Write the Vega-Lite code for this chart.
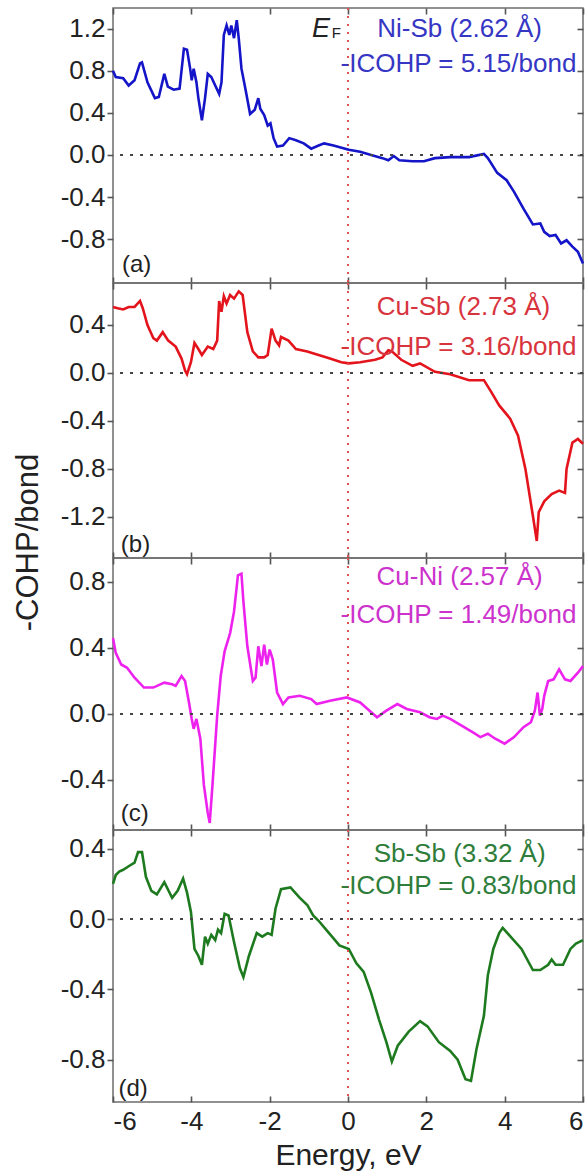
{
  "$schema": "https://vega.github.io/schema/vega-lite/v6.json",
  "padding": {"left": 11, "top": 6, "right": 4, "bottom": 0},
  "spacing": 0,
  "bounds": "flush",
  "config": {
    "view": {"stroke": "#6e6e6e", "strokeWidth": 1.5},
    "axis": {"labelFont": "Liberation Sans", "titleFont": "Liberation Sans", "labelFontSize": 26, "titleFontSize": 30, "labelColor": "#222222", "titleColor": "#222222", "titleFontWeight": "normal", "grid": false, "domain": false, "ticks": true, "tickColor": "#555555", "tickWidth": 1.6, "labelExpr": "replace(datum.label, '\u2212', '-')"},
    "text": {"font": "Liberation Sans", "fontSize": 26, "baseline": "middle", "align": "center"}
  },
  "datasets": {
    "one": [{}],
    "a": [
      {"energy": -6.0, "cohp": 0.80}, {"energy": -5.93, "cohp": 0.74}, {"energy": -5.74, "cohp": 0.73}, {"energy": -5.6, "cohp": 0.66}, {"energy": -5.45, "cohp": 0.71}, {"energy": -5.31, "cohp": 0.87}, {"energy": -5.26, "cohp": 0.88}, {"energy": -5.12, "cohp": 0.69}, {"energy": -4.93, "cohp": 0.54}, {"energy": -4.83, "cohp": 0.55}, {"energy": -4.69, "cohp": 0.77}, {"energy": -4.6, "cohp": 0.65}, {"energy": -4.45, "cohp": 0.62}, {"energy": -4.3, "cohp": 0.63}, {"energy": -4.19, "cohp": 1.01}, {"energy": -4.11, "cohp": 1.0}, {"energy": -4.03, "cohp": 0.82}, {"energy": -3.99, "cohp": 0.71}, {"energy": -3.94, "cohp": 0.82}, {"energy": -3.87, "cohp": 0.69}, {"energy": -3.82, "cohp": 0.54}, {"energy": -3.73, "cohp": 0.33}, {"energy": -3.65, "cohp": 0.54}, {"energy": -3.58, "cohp": 0.77}, {"energy": -3.49, "cohp": 0.74}, {"energy": -3.39, "cohp": 0.66}, {"energy": -3.29, "cohp": 0.58}, {"energy": -3.23, "cohp": 0.69}, {"energy": -3.17, "cohp": 1.14}, {"energy": -3.1, "cohp": 1.23}, {"energy": -3.03, "cohp": 1.14}, {"energy": -2.98, "cohp": 1.23}, {"energy": -2.91, "cohp": 1.11}, {"energy": -2.84, "cohp": 1.28}, {"energy": -2.79, "cohp": 1.11}, {"energy": -2.72, "cohp": 0.82}, {"energy": -2.62, "cohp": 0.63}, {"energy": -2.5, "cohp": 0.39}, {"energy": -2.38, "cohp": 0.43}, {"energy": -2.29, "cohp": 0.54}, {"energy": -2.24, "cohp": 0.44}, {"energy": -2.14, "cohp": 0.38}, {"energy": -2.05, "cohp": 0.28}, {"energy": -1.98, "cohp": 0.30}, {"energy": -1.9, "cohp": 0.16}, {"energy": -1.81, "cohp": 0.08}, {"energy": -1.66, "cohp": 0.09}, {"energy": -1.5, "cohp": 0.16}, {"energy": -1.33, "cohp": 0.14}, {"energy": -1.13, "cohp": 0.11}, {"energy": -0.94, "cohp": 0.06}, {"energy": -0.75, "cohp": 0.09}, {"energy": -0.61, "cohp": 0.11}, {"energy": -0.37, "cohp": 0.09}, {"energy": 0.02, "cohp": 0.05}, {"energy": 0.31, "cohp": 0.03}, {"energy": 0.59, "cohp": 0.0}, {"energy": 0.88, "cohp": -0.03}, {"energy": 1.03, "cohp": -0.05}, {"energy": 1.17, "cohp": -0.01}, {"energy": 1.31, "cohp": -0.05}, {"energy": 1.65, "cohp": -0.06}, {"energy": 1.94, "cohp": -0.06}, {"energy": 2.22, "cohp": -0.03}, {"energy": 2.61, "cohp": -0.02}, {"energy": 3.09, "cohp": -0.02}, {"energy": 3.47, "cohp": 0.01}, {"energy": 3.57, "cohp": -0.03}, {"energy": 3.81, "cohp": -0.17}, {"energy": 4.05, "cohp": -0.24}, {"energy": 4.24, "cohp": -0.35}, {"energy": 4.48, "cohp": -0.51}, {"energy": 4.72, "cohp": -0.66}, {"energy": 4.91, "cohp": -0.65}, {"energy": 5.01, "cohp": -0.73}, {"energy": 5.15, "cohp": -0.77}, {"energy": 5.3, "cohp": -0.76}, {"energy": 5.44, "cohp": -0.84}, {"energy": 5.58, "cohp": -0.81}, {"energy": 5.73, "cohp": -0.87}, {"energy": 5.87, "cohp": -0.92}, {"energy": 6.0, "cohp": -1.03}
    ],
    "b": [
      {"energy": -6.0, "cohp": 0.55}, {"energy": -5.88, "cohp": 0.54}, {"energy": -5.74, "cohp": 0.53}, {"energy": -5.6, "cohp": 0.55}, {"energy": -5.45, "cohp": 0.55}, {"energy": -5.31, "cohp": 0.60}, {"energy": -5.24, "cohp": 0.54}, {"energy": -5.12, "cohp": 0.40}, {"energy": -4.97, "cohp": 0.29}, {"energy": -4.88, "cohp": 0.27}, {"energy": -4.73, "cohp": 0.34}, {"energy": -4.59, "cohp": 0.27}, {"energy": -4.4, "cohp": 0.22}, {"energy": -4.25, "cohp": 0.12}, {"energy": -4.16, "cohp": 0.02}, {"energy": -4.11, "cohp": -0.01}, {"energy": -4.01, "cohp": 0.09}, {"energy": -3.92, "cohp": 0.25}, {"energy": -3.82, "cohp": 0.20}, {"energy": -3.73, "cohp": 0.15}, {"energy": -3.58, "cohp": 0.22}, {"energy": -3.44, "cohp": 0.20}, {"energy": -3.34, "cohp": 0.27}, {"energy": -3.29, "cohp": 0.60}, {"energy": -3.23, "cohp": 0.51}, {"energy": -3.17, "cohp": 0.64}, {"energy": -3.1, "cohp": 0.58}, {"energy": -3.01, "cohp": 0.65}, {"energy": -2.91, "cohp": 0.62}, {"energy": -2.79, "cohp": 0.68}, {"energy": -2.69, "cohp": 0.65}, {"energy": -2.57, "cohp": 0.34}, {"energy": -2.43, "cohp": 0.18}, {"energy": -2.29, "cohp": 0.13}, {"energy": -2.14, "cohp": 0.13}, {"energy": -2.05, "cohp": 0.15}, {"energy": -1.95, "cohp": 0.37}, {"energy": -1.85, "cohp": 0.27}, {"energy": -1.76, "cohp": 0.23}, {"energy": -1.71, "cohp": 0.30}, {"energy": -1.52, "cohp": 0.27}, {"energy": -1.33, "cohp": 0.20}, {"energy": -1.04, "cohp": 0.18}, {"energy": -0.75, "cohp": 0.15}, {"energy": -0.46, "cohp": 0.12}, {"energy": -0.17, "cohp": 0.09}, {"energy": 0.02, "cohp": 0.08}, {"energy": 0.31, "cohp": 0.09}, {"energy": 0.69, "cohp": 0.11}, {"energy": 0.88, "cohp": 0.13}, {"energy": 1.03, "cohp": 0.19}, {"energy": 1.12, "cohp": 0.18}, {"energy": 1.36, "cohp": 0.11}, {"energy": 1.65, "cohp": 0.06}, {"energy": 1.84, "cohp": 0.08}, {"energy": 2.22, "cohp": 0.01}, {"energy": 2.61, "cohp": -0.01}, {"energy": 3.09, "cohp": -0.06}, {"energy": 3.47, "cohp": -0.06}, {"energy": 3.66, "cohp": -0.16}, {"energy": 3.86, "cohp": -0.27}, {"energy": 4.14, "cohp": -0.38}, {"energy": 4.34, "cohp": -0.52}, {"energy": 4.53, "cohp": -0.80}, {"energy": 4.72, "cohp": -1.19}, {"energy": 4.82, "cohp": -1.40}, {"energy": 4.87, "cohp": -1.16}, {"energy": 5.01, "cohp": -1.07}, {"energy": 5.2, "cohp": -1.01}, {"energy": 5.39, "cohp": -0.98}, {"energy": 5.54, "cohp": -1.0}, {"energy": 5.58, "cohp": -0.80}, {"energy": 5.73, "cohp": -0.58}, {"energy": 5.87, "cohp": -0.55}, {"energy": 6.0, "cohp": -0.59}
    ],
    "c": [
      {"energy": -6.0, "cohp": 0.46}, {"energy": -5.93, "cohp": 0.37}, {"energy": -5.79, "cohp": 0.30}, {"energy": -5.64, "cohp": 0.28}, {"energy": -5.45, "cohp": 0.22}, {"energy": -5.21, "cohp": 0.16}, {"energy": -4.97, "cohp": 0.16}, {"energy": -4.69, "cohp": 0.19}, {"energy": -4.49, "cohp": 0.18}, {"energy": -4.4, "cohp": 0.17}, {"energy": -4.25, "cohp": 0.23}, {"energy": -4.16, "cohp": 0.20}, {"energy": -4.06, "cohp": 0.07}, {"energy": -3.99, "cohp": -0.03}, {"energy": -3.94, "cohp": -0.09}, {"energy": -3.87, "cohp": -0.03}, {"energy": -3.77, "cohp": -0.15}, {"energy": -3.68, "cohp": -0.43}, {"energy": -3.58, "cohp": -0.60}, {"energy": -3.53, "cohp": -0.66}, {"energy": -3.46, "cohp": -0.43}, {"energy": -3.34, "cohp": -0.01}, {"energy": -3.25, "cohp": 0.23}, {"energy": -3.15, "cohp": 0.38}, {"energy": -3.01, "cohp": 0.49}, {"energy": -2.91, "cohp": 0.62}, {"energy": -2.81, "cohp": 0.84}, {"energy": -2.72, "cohp": 0.85}, {"energy": -2.67, "cohp": 0.68}, {"energy": -2.57, "cohp": 0.41}, {"energy": -2.43, "cohp": 0.20}, {"energy": -2.36, "cohp": 0.22}, {"energy": -2.29, "cohp": 0.41}, {"energy": -2.21, "cohp": 0.29}, {"energy": -2.14, "cohp": 0.42}, {"energy": -2.07, "cohp": 0.30}, {"energy": -2.0, "cohp": 0.39}, {"energy": -1.92, "cohp": 0.33}, {"energy": -1.81, "cohp": 0.13}, {"energy": -1.66, "cohp": 0.06}, {"energy": -1.52, "cohp": 0.10}, {"energy": -1.23, "cohp": 0.11}, {"energy": -0.94, "cohp": 0.09}, {"energy": -0.8, "cohp": 0.06}, {"energy": -0.46, "cohp": 0.08}, {"energy": -0.03, "cohp": 0.10}, {"energy": 0.31, "cohp": 0.07}, {"energy": 0.55, "cohp": 0.02}, {"energy": 0.74, "cohp": -0.02}, {"energy": 0.98, "cohp": 0.02}, {"energy": 1.26, "cohp": 0.06}, {"energy": 1.5, "cohp": 0.03}, {"energy": 1.84, "cohp": 0.01}, {"energy": 2.08, "cohp": -0.02}, {"energy": 2.27, "cohp": -0.03}, {"energy": 2.42, "cohp": -0.01}, {"energy": 2.61, "cohp": -0.03}, {"energy": 2.9, "cohp": -0.07}, {"energy": 3.18, "cohp": -0.11}, {"energy": 3.38, "cohp": -0.14}, {"energy": 3.57, "cohp": -0.12}, {"energy": 3.76, "cohp": -0.15}, {"energy": 4.0, "cohp": -0.18}, {"energy": 4.24, "cohp": -0.14}, {"energy": 4.48, "cohp": -0.08}, {"energy": 4.67, "cohp": -0.05}, {"energy": 4.77, "cohp": 0.02}, {"energy": 4.84, "cohp": 0.13}, {"energy": 4.9, "cohp": -0.01}, {"energy": 4.96, "cohp": 0.03}, {"energy": 5.01, "cohp": 0.11}, {"energy": 5.11, "cohp": 0.20}, {"energy": 5.25, "cohp": 0.21}, {"energy": 5.39, "cohp": 0.27}, {"energy": 5.54, "cohp": 0.21}, {"energy": 5.68, "cohp": 0.20}, {"energy": 5.87, "cohp": 0.25}, {"energy": 6.0, "cohp": 0.29}
    ],
    "d": [
      {"energy": -6.0, "cohp": 0.20}, {"energy": -5.93, "cohp": 0.25}, {"energy": -5.84, "cohp": 0.27}, {"energy": -5.74, "cohp": 0.28}, {"energy": -5.6, "cohp": 0.30}, {"energy": -5.45, "cohp": 0.32}, {"energy": -5.36, "cohp": 0.38}, {"energy": -5.26, "cohp": 0.38}, {"energy": -5.16, "cohp": 0.24}, {"energy": -5.02, "cohp": 0.16}, {"energy": -4.88, "cohp": 0.14}, {"energy": -4.69, "cohp": 0.21}, {"energy": -4.49, "cohp": 0.12}, {"energy": -4.35, "cohp": 0.16}, {"energy": -4.21, "cohp": 0.23}, {"energy": -4.11, "cohp": 0.15}, {"energy": -4.01, "cohp": 0.04}, {"energy": -3.92, "cohp": -0.17}, {"energy": -3.82, "cohp": -0.21}, {"energy": -3.73, "cohp": -0.26}, {"energy": -3.65, "cohp": -0.10}, {"energy": -3.58, "cohp": -0.14}, {"energy": -3.49, "cohp": -0.09}, {"energy": -3.39, "cohp": -0.12}, {"energy": -3.32, "cohp": -0.06}, {"energy": -3.24, "cohp": -0.08}, {"energy": -3.15, "cohp": 0.03}, {"energy": -3.05, "cohp": 0.02}, {"energy": -2.91, "cohp": -0.13}, {"energy": -2.76, "cohp": -0.28}, {"energy": -2.67, "cohp": -0.33}, {"energy": -2.53, "cohp": -0.21}, {"energy": -2.33, "cohp": -0.08}, {"energy": -2.19, "cohp": -0.10}, {"energy": -2.05, "cohp": -0.08}, {"energy": -1.95, "cohp": -0.09}, {"energy": -1.85, "cohp": 0.06}, {"energy": -1.71, "cohp": 0.17}, {"energy": -1.47, "cohp": 0.18}, {"energy": -1.23, "cohp": 0.12}, {"energy": -1.04, "cohp": 0.08}, {"energy": -0.89, "cohp": 0.02}, {"energy": -0.75, "cohp": -0.01}, {"energy": -0.56, "cohp": -0.06}, {"energy": -0.37, "cohp": -0.11}, {"energy": -0.22, "cohp": -0.15}, {"energy": 0.02, "cohp": -0.17}, {"energy": 0.21, "cohp": -0.25}, {"energy": 0.4, "cohp": -0.30}, {"energy": 0.59, "cohp": -0.42}, {"energy": 0.79, "cohp": -0.57}, {"energy": 0.98, "cohp": -0.70}, {"energy": 1.12, "cohp": -0.81}, {"energy": 1.27, "cohp": -0.72}, {"energy": 1.55, "cohp": -0.64}, {"energy": 1.84, "cohp": -0.58}, {"energy": 2.03, "cohp": -0.61}, {"energy": 2.32, "cohp": -0.70}, {"energy": 2.61, "cohp": -0.75}, {"energy": 2.8, "cohp": -0.80}, {"energy": 3.0, "cohp": -0.91}, {"energy": 3.14, "cohp": -0.92}, {"energy": 3.28, "cohp": -0.74}, {"energy": 3.47, "cohp": -0.55}, {"energy": 3.57, "cohp": -0.32}, {"energy": 3.71, "cohp": -0.17}, {"energy": 3.86, "cohp": -0.08}, {"energy": 3.95, "cohp": -0.05}, {"energy": 4.15, "cohp": -0.10}, {"energy": 4.43, "cohp": -0.17}, {"energy": 4.72, "cohp": -0.29}, {"energy": 4.91, "cohp": -0.29}, {"energy": 5.11, "cohp": -0.26}, {"energy": 5.2, "cohp": -0.23}, {"energy": 5.3, "cohp": -0.26}, {"energy": 5.49, "cohp": -0.26}, {"energy": 5.68, "cohp": -0.17}, {"energy": 5.82, "cohp": -0.14}, {"energy": 6.0, "cohp": -0.12}
    ]
  },
  "vconcat": [
    {
      "width": 470, "height": 275,
      "resolve": {"axis": {"x": "independent", "y": "independent"}},
      "layer": [
        {"data": {"name": "a"}, "mark": {"type": "line", "color": "#1414c8", "strokeWidth": 2.6},
         "encoding": {
           "x": {"field": "energy", "type": "quantitative", "scale": {"domain": [-6, 6], "nice": false}, "axis": {"orient": "bottom", "values": [-6, -4, -2, 0, 2, 4, 6], "labels": false, "tickSize": 6, "offset": -6, "title": null}},
           "y": {"field": "cohp", "type": "quantitative", "scale": {"domain": [-1.216, 1.396], "nice": false, "zero": false}, "axis": {"orient": "left", "values": [-0.8, -0.4, 0, 0.4, 0.8, 1.2], "format": ".1f", "tickSize": 6, "labelPadding": 2, "title": null}}}},
        {"data": {"name": "one"}, "mark": {"type": "rule", "color": "#444444", "strokeWidth": 2, "strokeDash": [3, 7]},
         "encoding": {"y": {"datum": 0, "type": "quantitative", "scale": {"domain": [-1.216, 1.396], "nice": false, "zero": false}, "axis": {"orient": "right", "values": [-0.8, -0.4, 0, 0.4, 0.8, 1.2], "labels": false, "tickSize": 6, "offset": -6, "title": null}}}},
        {"data": {"name": "one"}, "mark": {"type": "rule", "color": "#e05050", "strokeWidth": 2, "strokeDash": [2, 6]},
         "encoding": {"x": {"datum": 0, "type": "quantitative", "scale": {"domain": [-6, 6], "nice": false}, "axis": {"orient": "top", "values": [-6, -4, -2, 0, 2, 4, 6], "labels": false, "tickSize": 6, "offset": -6, "title": null}}}},
        {"data": {"name": "one"}, "mark": {"type": "text", "text": "Ni-Sb (2.62 Å)", "color": "#3636c4"},
         "encoding": {"x": {"datum": 2.85, "type": "quantitative", "axis": null}, "y": {"datum": 1.2, "type": "quantitative", "axis": null}}},
        {"data": {"name": "one"}, "mark": {"type": "text", "text": "-ICOHP = 5.15/bond", "color": "#3636c4"},
         "encoding": {"x": {"datum": 2.82, "type": "quantitative", "axis": null}, "y": {"datum": 0.867, "type": "quantitative", "axis": null}}},
        {"data": {"name": "one"}, "mark": {"type": "text", "text": "E", "color": "#222222", "fontSize": 27, "fontStyle": "italic"},
         "encoding": {"x": {"datum": -0.69, "type": "quantitative", "axis": null}, "y": {"datum": 1.2, "type": "quantitative", "axis": null}}},
        {"data": {"name": "one"}, "mark": {"type": "text", "text": "F", "color": "#222222", "fontSize": 15},
         "encoding": {"x": {"datum": -0.3, "type": "quantitative", "axis": null}, "y": {"datum": 1.16, "type": "quantitative", "axis": null}}},
        {"data": {"name": "one"}, "mark": {"type": "text", "text": "(a)", "color": "#222222", "fontSize": 24, "align": "left"},
         "encoding": {"x": {"datum": -5.77, "type": "quantitative", "axis": null}, "y": {"datum": -1.045, "type": "quantitative", "axis": null}}}
      ]
    },
    {
      "width": 470, "height": 275,
      "resolve": {"axis": {"x": "independent", "y": "independent"}},
      "layer": [
        {"data": {"name": "b"}, "mark": {"type": "line", "color": "#e3141c", "strokeWidth": 2.6},
         "encoding": {
           "x": {"field": "energy", "type": "quantitative", "scale": {"domain": [-6, 6], "nice": false}, "axis": {"orient": "bottom", "values": [-6, -4, -2, 0, 2, 4, 6], "labels": false, "tickSize": 6, "offset": -6, "title": null}},
           "y": {"field": "cohp", "type": "quantitative", "scale": {"domain": [-1.542, 0.75], "nice": false, "zero": false}, "axis": {"orient": "left", "values": [-1.2, -0.8, -0.4, 0, 0.4], "format": ".1f", "tickSize": 6, "labelPadding": 2, "title": "-COHP/bond", "titleFontSize": 31, "titleX": -85, "titleY": 259, "titleAngle": 270, "titleAlign": "center", "titleBaseline": "middle"}}}},
        {"data": {"name": "one"}, "mark": {"type": "rule", "color": "#444444", "strokeWidth": 2, "strokeDash": [3, 7]},
         "encoding": {"y": {"datum": 0, "type": "quantitative", "scale": {"domain": [-1.542, 0.75], "nice": false, "zero": false}, "axis": {"orient": "right", "values": [-1.2, -0.8, -0.4, 0, 0.4], "labels": false, "tickSize": 6, "offset": -6, "title": null}}}},
        {"data": {"name": "one"}, "mark": {"type": "rule", "color": "#e05050", "strokeWidth": 2, "strokeDash": [2, 6]},
         "encoding": {"x": {"datum": 0, "type": "quantitative", "scale": {"domain": [-6, 6], "nice": false}, "axis": {"orient": "top", "values": [-6, -4, -2, 0, 2, 4, 6], "labels": false, "tickSize": 6, "offset": -6, "title": null}}}},
        {"data": {"name": "one"}, "mark": {"type": "text", "text": "Cu-Sb (2.73 Å)", "color": "#d8343e"},
         "encoding": {"x": {"datum": 2.95, "type": "quantitative", "axis": null}, "y": {"datum": 0.55, "type": "quantitative", "axis": null}}},
        {"data": {"name": "one"}, "mark": {"type": "text", "text": "-ICOHP = 3.16/bond", "color": "#d8343e"},
         "encoding": {"x": {"datum": 2.82, "type": "quantitative", "axis": null}, "y": {"datum": 0.217, "type": "quantitative", "axis": null}}},
        {"data": {"name": "one"}, "mark": {"type": "text", "text": "(b)", "color": "#222222", "fontSize": 24, "align": "left"},
         "encoding": {"x": {"datum": -5.8, "type": "quantitative", "axis": null}, "y": {"datum": -1.43, "type": "quantitative", "axis": null}}}
      ]
    },
    {
      "width": 470, "height": 272,
      "resolve": {"axis": {"x": "independent", "y": "independent"}},
      "layer": [
        {"data": {"name": "c"}, "mark": {"type": "line", "color": "#ee22ee", "strokeWidth": 2.6},
         "encoding": {
           "x": {"field": "energy", "type": "quantitative", "scale": {"domain": [-6, 6], "nice": false}, "axis": {"orient": "bottom", "values": [-6, -4, -2, 0, 2, 4, 6], "labels": false, "tickSize": 6, "offset": -6, "title": null}},
           "y": {"field": "cohp", "type": "quantitative", "scale": {"domain": [-0.703, 0.945], "nice": false, "zero": false}, "axis": {"orient": "left", "values": [-0.4, 0, 0.4, 0.8], "format": ".1f", "tickSize": 6, "labelPadding": 2, "title": null}}}},
        {"data": {"name": "one"}, "mark": {"type": "rule", "color": "#444444", "strokeWidth": 2, "strokeDash": [3, 7]},
         "encoding": {"y": {"datum": 0, "type": "quantitative", "scale": {"domain": [-0.703, 0.945], "nice": false, "zero": false}, "axis": {"orient": "right", "values": [-0.4, 0, 0.4, 0.8], "labels": false, "tickSize": 6, "offset": -6, "title": null}}}},
        {"data": {"name": "one"}, "mark": {"type": "rule", "color": "#e05050", "strokeWidth": 2, "strokeDash": [2, 6]},
         "encoding": {"x": {"datum": 0, "type": "quantitative", "scale": {"domain": [-6, 6], "nice": false}, "axis": {"orient": "top", "values": [-6, -4, -2, 0, 2, 4, 6], "labels": false, "tickSize": 6, "offset": -6, "title": null}}}},
        {"data": {"name": "one"}, "mark": {"type": "text", "text": "Cu-Ni (2.57 Å)", "color": "#cc33cc"},
         "encoding": {"x": {"datum": 2.85, "type": "quantitative", "axis": null}, "y": {"datum": 0.83, "type": "quantitative", "axis": null}}},
        {"data": {"name": "one"}, "mark": {"type": "text", "text": "-ICOHP = 1.49/bond", "color": "#cc33cc"},
         "encoding": {"x": {"datum": 2.82, "type": "quantitative", "axis": null}, "y": {"datum": 0.6, "type": "quantitative", "axis": null}}},
        {"data": {"name": "one"}, "mark": {"type": "text", "text": "(c)", "color": "#222222", "fontSize": 24, "align": "left"},
         "encoding": {"x": {"datum": -5.8, "type": "quantitative", "axis": null}, "y": {"datum": -0.606, "type": "quantitative", "axis": null}}}
      ]
    },
    {
      "width": 470, "height": 272,
      "resolve": {"axis": {"x": "independent", "y": "independent"}},
      "layer": [
        {"data": {"name": "d"}, "mark": {"type": "line", "color": "#1e7a1e", "strokeWidth": 2.6},
         "encoding": {
           "x": {"field": "energy", "type": "quantitative", "scale": {"domain": [-6, 6], "nice": false}, "axis": {"orient": "bottom", "values": [-6, -4, -2, 0, 2, 4, 6], "format": "d", "tickSize": 6, "offset": -6, "labelPadding": 6, "title": "Energy, eV", "titlePadding": 6}},
           "y": {"field": "cohp", "type": "quantitative", "scale": {"domain": [-1.04, 0.506], "nice": false, "zero": false}, "axis": {"orient": "left", "values": [-0.8, -0.4, 0, 0.4], "format": ".1f", "tickSize": 6, "labelPadding": 2, "title": null}}}},
        {"data": {"name": "one"}, "mark": {"type": "rule", "color": "#444444", "strokeWidth": 2, "strokeDash": [3, 7]},
         "encoding": {"y": {"datum": 0, "type": "quantitative", "scale": {"domain": [-1.04, 0.506], "nice": false, "zero": false}, "axis": {"orient": "right", "values": [-0.8, -0.4, 0, 0.4], "labels": false, "tickSize": 6, "offset": -6, "title": null}}}},
        {"data": {"name": "one"}, "mark": {"type": "rule", "color": "#e05050", "strokeWidth": 2, "strokeDash": [2, 6]},
         "encoding": {"x": {"datum": 0, "type": "quantitative", "scale": {"domain": [-6, 6], "nice": false}, "axis": {"orient": "top", "values": [-6, -4, -2, 0, 2, 4, 6], "labels": false, "tickSize": 6, "offset": -6, "title": null}}}},
        {"data": {"name": "one"}, "mark": {"type": "text", "text": "Sb-Sb (3.32 Å)", "color": "#2e7d3a"},
         "encoding": {"x": {"datum": 2.85, "type": "quantitative", "axis": null}, "y": {"datum": 0.37, "type": "quantitative", "axis": null}}},
        {"data": {"name": "one"}, "mark": {"type": "text", "text": "-ICOHP = 0.83/bond", "color": "#2e7d3a"},
         "encoding": {"x": {"datum": 2.82, "type": "quantitative", "axis": null}, "y": {"datum": 0.19, "type": "quantitative", "axis": null}}},
        {"data": {"name": "one"}, "mark": {"type": "text", "text": "(d)", "color": "#222222", "fontSize": 24, "align": "left"},
         "encoding": {"x": {"datum": -5.86, "type": "quantitative", "axis": null}, "y": {"datum": -0.966, "type": "quantitative", "axis": null}}}
      ]
    }
  ]
}
